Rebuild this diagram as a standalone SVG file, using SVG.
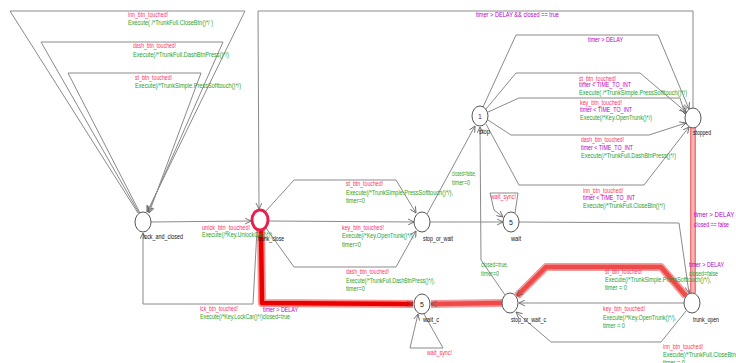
<svg xmlns="http://www.w3.org/2000/svg" width="736" height="363" viewBox="0 0 736 363">
  <defs>
    <marker id="ah" viewBox="0 0 8 8" refX="7" refY="4" markerWidth="7" markerHeight="7" orient="auto" markerUnits="userSpaceOnUse">
      <path d="M0,0.5 L7,4 L0,7.5" fill="none" stroke="#666" stroke-width="1"/>
    </marker>
    <style>
      .e { fill: none; stroke: #8a8a8a; stroke-width: 1; }
      .a { marker-end: url(#ah); }
      .hl1o { fill: none; stroke: #ff5a5a; stroke-width: 8; stroke-opacity: 0.7; stroke-linejoin: round; }
      .hl1 { fill: none; stroke: #e80000; stroke-width: 4.5; stroke-linejoin: round; }
      .hl2o { fill: none; stroke: #f59a9a; stroke-width: 8; stroke-linejoin: round; }
      .hl2 { fill: none; stroke: #ee4a4a; stroke-width: 4.5; stroke-linejoin: round; }
      .hl3o { fill: none; stroke: #ee7878; stroke-width: 6; }
      .hl3 { fill: none; stroke: #f8b4b4; stroke-width: 3; }
      .n { fill: #fff; stroke: #555; stroke-width: 1; }
      .ncur { fill: #fff; stroke: #e8204c; stroke-width: 3; }
      text { font-family: "Liberation Sans", Arial, sans-serif; font-size: 7px; }
      .s { fill: #ff3366; }
      .u { fill: #1f9f1f; }
      .g { fill: #b400c8; }
      .l { fill: #111; }
      .in { fill: #222; font-size: 7px; text-anchor: middle; }
    </style>
  </defs>
  <rect width="736" height="363" fill="#fff"/>

  <!-- edges -->
  <g id="connectors">
    <!-- self loops on lock_and_closed -->
    <path class="e a" d="M138,213 L10,11 L245,11 L147,212"/>
    <path class="e a" d="M139,213 L41,42 L223,42 L148,212"/>
    <path class="e a" d="M140,213 L68,73 L201,73 L149,213"/>
    <!-- lock_and_closed <-> trunk_close -->
    <path class="e a" d="M151,222 L251,221"/>
    <path class="e a" d="M257,230 L253,304 L143,304 L143,233"/>
    <!-- stopped -> trunk_close -->
    <path class="e a" d="M693,108 L693,11 L258,11 L259,209"/>
    <!-- trunk_close -> stop_or_wait -->
    <path class="e a" d="M265,212 L294,180 L396,180 L416,213"/>
    <path class="e a" d="M268,221 L414,222"/>
    <path class="e a" d="M266,228 L294,267 L396,267 L416,231"/>
    <!-- stop_or_wait -> stop / wait -->
    <path class="e a" d="M427,214 L475,126"/>
    <path class="e a" d="M430,222 L503,222"/>
    <!-- wait self loop and wait -> trunk_open -->
    <path class="e a" d="M515,213 L518,193 L490,193 L494,210 L503,217"/>
    <path class="e a" d="M519,222 L679,223 L689,293"/>
    <!-- stop -> stopped -->
    <path class="e a" d="M483,107 L516,35 L658,35 L689,109"/>
    <path class="e a" d="M486,109 L516,73 L640,73 L686,112"/>
    <path class="e a" d="M488,112 L519,98 L680,98 L685,114"/>
    <path class="e a" d="M488,120 L511,135 L649,135 L686,123"/>
    <path class="e a" d="M486,124 L519,185 L644,185 L689,127"/>
    <!-- stop_or_wait_c -> stop -->
    <path class="e a" d="M505,295 L481,260 L480,127"/>
    <!-- trunk_open -> stop_or_wait_c -->
    <path class="e a" d="M684,303 L519,303"/>
    <path class="e a" d="M686,311 L661,342 L551,342 L516,312"/>
    <!-- wait_c self loop -->
    <path class="e a" d="M424,314 L443,348 L410,348 L418,314"/>
    <!-- highlighted trace -->
    <path class="hl3o" d="M693,128 L693,293"/>
    <path class="hl3" d="M693,128 L693,293"/>
    <path class="hl2o" d="M686,296 L661,267 L546,267 L517,296"/>
    <path class="hl2 a" d="M686,296 L661,267 L546,267 L517,296"/>
    <path class="hl2o" d="M502,303 L431,304"/>
    <path class="hl2 a" d="M502,303 L431,304"/>
    <path class="hl1o" d="M261,230 L262,303 L413,304"/>
    <path class="hl1 a" d="M261,230 L262,303 L413,304"/>
  </g>

  <!-- edge labels -->
  <g id="edge-labels" lengthAdjust="spacingAndGlyphs">
    <text class="s" x="128" y="17" textLength="40" lengthAdjust="spacingAndGlyphs">inn_btn_touched!</text>
    <text class="u" x="128" y="25" textLength="85" lengthAdjust="spacingAndGlyphs">Execute( /*TrunkFull.CloseBtn()*/ )</text>
    <text class="s" x="133" y="48" textLength="43" lengthAdjust="spacingAndGlyphs">dash_btn_touched!</text>
    <text class="u" x="133" y="56.5" textLength="96" lengthAdjust="spacingAndGlyphs">Execute(/*TrunkFull.DashBtnPress()*/)</text>
    <text class="s" x="135" y="79.5" textLength="37" lengthAdjust="spacingAndGlyphs">st_btn_touched!</text>
    <text class="u" x="135" y="87.5" textLength="106" lengthAdjust="spacingAndGlyphs">Execute(/*TrunkSimple.PressSofttouch()*/)</text>

    <text class="s" x="202" y="230" textLength="48" lengthAdjust="spacingAndGlyphs">unlck_btn_touched!</text>
    <text class="u" x="202" y="237" textLength="70" lengthAdjust="spacingAndGlyphs">Execute(/*Key.UnlockCar()*/)</text>
    <text class="s" x="200" y="311" textLength="38" lengthAdjust="spacingAndGlyphs">lck_btn_touched!</text>
    <text class="u" x="200" y="319" textLength="90" lengthAdjust="spacingAndGlyphs">Execute(/*Key.LockCar()*/)closed=true</text>
    <text class="g" x="263" y="312" textLength="35" lengthAdjust="spacingAndGlyphs">timer &gt; DELAY</text>

    <text class="g" x="476" y="17" textLength="83" lengthAdjust="spacingAndGlyphs">timer &gt; DELAY &amp;&amp; closed == true</text>

    <text class="s" x="346" y="186" textLength="37" lengthAdjust="spacingAndGlyphs">st_btn_touched!</text>
    <text class="u" x="346" y="194.5" textLength="107" lengthAdjust="spacingAndGlyphs">Execute(/*TrunkSimple.PressSofttouch()*/),</text>
    <text class="u" x="346" y="203" textLength="19" lengthAdjust="spacingAndGlyphs">timer=0</text>
    <text class="s" x="342" y="230" textLength="42" lengthAdjust="spacingAndGlyphs">key_btn_touched!</text>
    <text class="u" x="342" y="238" textLength="72" lengthAdjust="spacingAndGlyphs">Execute(/*Key.OpenTrunk()*/),</text>
    <text class="u" x="342" y="246.5" textLength="19" lengthAdjust="spacingAndGlyphs">timer=0</text>
    <text class="s" x="346" y="274" textLength="43" lengthAdjust="spacingAndGlyphs">dash_btn_touched!</text>
    <text class="u" x="346" y="282.5" textLength="89" lengthAdjust="spacingAndGlyphs">Execute(/*TrunkFull.DashBtnPress()*/),</text>
    <text class="u" x="346" y="291" textLength="19" lengthAdjust="spacingAndGlyphs">timer=0</text>

    <text class="u" x="452" y="176" textLength="24" lengthAdjust="spacingAndGlyphs">closed=false,</text>
    <text class="u" x="452" y="185" textLength="18" lengthAdjust="spacingAndGlyphs">timer=0</text>
    <text class="u" x="481" y="267" textLength="27" lengthAdjust="spacingAndGlyphs">closed=true,</text>
    <text class="u" x="481" y="276" textLength="18" lengthAdjust="spacingAndGlyphs">timer=0</text>

    <text class="s" x="491" y="199" textLength="25" lengthAdjust="spacingAndGlyphs">wait_sync!</text>
    <text class="s" x="427" y="355" textLength="25" lengthAdjust="spacingAndGlyphs">wait_sync!</text>

    <text class="g" x="588" y="42" textLength="35" lengthAdjust="spacingAndGlyphs">timer &gt; DELAY</text>
    <text class="s" x="579" y="80.5" textLength="37" lengthAdjust="spacingAndGlyphs">st_btn_touched!</text>
    <text class="g" x="579" y="87" textLength="52" lengthAdjust="spacingAndGlyphs">timer &lt; TIME_TO_INT</text>
    <text class="u" x="579" y="94.5" textLength="108" lengthAdjust="spacingAndGlyphs">Execute( /*TrunkSimple.PressSofttouch()*/)</text>
    <text class="s" x="580" y="105" textLength="42" lengthAdjust="spacingAndGlyphs">key_btn_touched!</text>
    <text class="g" x="580" y="112" textLength="52" lengthAdjust="spacingAndGlyphs">timer &lt; TIME_TO_INT</text>
    <text class="u" x="580" y="120" textLength="72" lengthAdjust="spacingAndGlyphs">Execute(/*Key.OpenTrunk()*/)</text>
    <text class="s" x="581" y="142" textLength="43" lengthAdjust="spacingAndGlyphs">dash_btn_touched!</text>
    <text class="g" x="581" y="150" textLength="52" lengthAdjust="spacingAndGlyphs">timer &lt; TIME_TO_INT</text>
    <text class="u" x="581" y="158" textLength="95" lengthAdjust="spacingAndGlyphs">Execute(/*TrunkFull.DashBtnPress()*/)</text>
    <text class="s" x="583" y="193" textLength="40" lengthAdjust="spacingAndGlyphs">inn_btn_touched!</text>
    <text class="g" x="583" y="200" textLength="52" lengthAdjust="spacingAndGlyphs">timer &lt; TIME_TO_INT</text>
    <text class="u" x="583" y="208" textLength="82" lengthAdjust="spacingAndGlyphs">Execute(/*TrunkFull.CloseBtn()*/)</text>

    <text class="g" x="694" y="217" textLength="50" lengthAdjust="spacingAndGlyphs">timer &gt; DELAY &amp;&amp;</text>
    <text class="g" x="694" y="227" textLength="35" lengthAdjust="spacingAndGlyphs">closed == false</text>
    <text class="g" x="689" y="267" textLength="35" lengthAdjust="spacingAndGlyphs">timer &gt; DELAY</text>
    <text class="u" x="689" y="275.5" textLength="29" lengthAdjust="spacingAndGlyphs">closed=false</text>

    <text class="s" x="605" y="274" textLength="37" lengthAdjust="spacingAndGlyphs">st_btn_touched!</text>
    <text class="u" x="605" y="281.5" textLength="106" lengthAdjust="spacingAndGlyphs">Execute(/*TrunkSimple.PressSofttouch()*/),</text>
    <text class="u" x="605" y="290" textLength="22" lengthAdjust="spacingAndGlyphs">timer = 0</text>
    <text class="s" x="603" y="311" textLength="42" lengthAdjust="spacingAndGlyphs">key_btn_touched!</text>
    <text class="u" x="603" y="319.5" textLength="73" lengthAdjust="spacingAndGlyphs">Execute(/*Key.OpenTrunk()*/),</text>
    <text class="u" x="603" y="328" textLength="22" lengthAdjust="spacingAndGlyphs">timer = 0</text>
    <text class="s" x="663" y="349" textLength="40" lengthAdjust="spacingAndGlyphs">inn_btn_touched!</text>
    <text class="u" x="663" y="356.5" textLength="82" lengthAdjust="spacingAndGlyphs">Execute(/*TrunkFull.CloseBtn()*/)</text>
    <text class="u" x="663" y="365" textLength="22" lengthAdjust="spacingAndGlyphs">timer = 0</text>
  </g>

  <!-- locations -->
  <g id="lock_and_closed">
    <ellipse class="n" cx="143" cy="222" rx="8" ry="10"/>
    <text class="l" x="143" y="239" textLength="40" lengthAdjust="spacingAndGlyphs">lock_and_closed</text>
  </g>
  <g id="trunk_close">
    <ellipse class="ncur" cx="260" cy="220" rx="8" ry="10"/>
    <text class="l" x="258" y="241" textLength="26" lengthAdjust="spacingAndGlyphs">trunk_close</text>
  </g>
  <g id="stop_or_wait">
    <ellipse class="n" cx="422" cy="222" rx="8" ry="10"/>
    <text class="l" x="423" y="241" textLength="30" lengthAdjust="spacingAndGlyphs">stop_or_wait</text>
  </g>
  <g id="stop">
    <ellipse class="n" cx="480" cy="116" rx="8" ry="10"/>
    <text class="in" x="480" y="119" fill="#6a1a6a" style="fill:#6a1a6a">1</text>
    <text class="l" x="479" y="134" textLength="11" lengthAdjust="spacingAndGlyphs">stop</text>
  </g>
  <g id="stopped">
    <ellipse class="n" cx="693" cy="118" rx="8" ry="10"/>
    <text class="l" x="693" y="135" textLength="18" lengthAdjust="spacingAndGlyphs">stopped</text>
  </g>
  <g id="wait">
    <ellipse class="n" cx="511" cy="222" rx="8" ry="10"/>
    <text class="in" x="511" y="225">5</text>
    <text class="l" x="511" y="241" textLength="10" lengthAdjust="spacingAndGlyphs">wait</text>
  </g>
  <g id="wait_c">
    <ellipse class="n" cx="422" cy="304" rx="8" ry="10"/>
    <text class="in" x="422" y="307">5</text>
    <text class="l" x="423" y="322" textLength="16" lengthAdjust="spacingAndGlyphs">wait_c</text>
  </g>
  <g id="stop_or_wait_c">
    <ellipse class="n" cx="510" cy="303" rx="8" ry="10"/>
    <text class="l" x="511" y="322" textLength="35" lengthAdjust="spacingAndGlyphs">stop_or_wait_c</text>
  </g>
  <g id="trunk_open">
    <ellipse class="n" cx="692" cy="303" rx="8" ry="10"/>
    <text class="l" x="693" y="322" textLength="26" lengthAdjust="spacingAndGlyphs">trunk_open</text>
  </g>
</svg>
